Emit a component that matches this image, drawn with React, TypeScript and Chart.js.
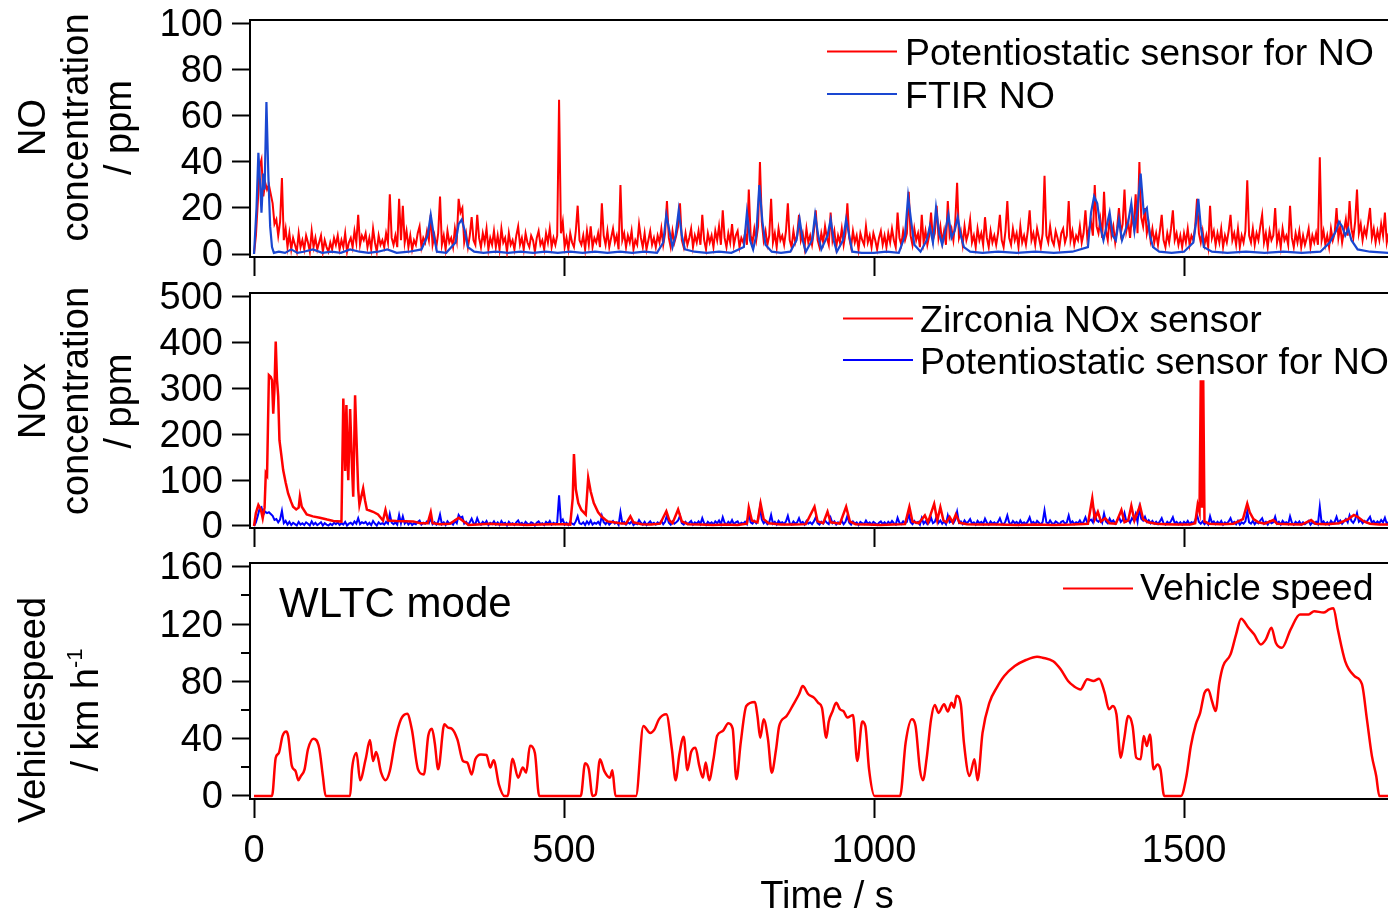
import { useEffect, useRef } from "react";
import { Chart, registerables } from "chart.js";

Chart.register(...registerables);

const FONT_FAMILY = "'Liberation Sans', Arial, Helvetica, sans-serif";
const RED = "#ff0000";
const FTIR_BLUE = "#1a47d1";
const BLUE = "#0000ff";

// ---------------- axes ----------------
const TIME_MIN = -6.5;
const TIME_MAX = 1829;
const TIME_TICKS = [0, 500, 1000, 1500];
const NO_TICKS = [0, 20, 40, 60, 80, 100];
const NOX_TICKS = [0, 100, 200, 300, 400, 500];
const SPEED_TICKS = [0, 40, 80, 120, 160];
const SPEED_MINOR_TICKS = [20, 60, 100, 140];

// ---------------- data ----------------
// Potentiostatic NO sensor, sampled every POT_STEP seconds from t = 0 s (ppm)
const POT_STEP = 3;
const potentiostaticNO = [
  0, 8, 22, 38, 41, 25, 31, 28, 30, 26, 22, 13, 15, 8, 14, 33, 6, 11, 3, 9,
  2, 7, 4, 1, 9, 3, 6, 2, 8, 5, 1, 10, 3, 7, 2, 5, 8, 1, 6, 3,
  1, 5, 2, 7, 4, 8, 2, 6, 3, 9, 1, 5, 7, 3, 10, 5, 17, 4, 8, 6,
  9, 3, 7, 2, 11, 5, 1, 8, 4, 6, 3, 9, 5, 26, 7, 4, 8, 3, 24, 6,
  21, 5, 10, 3, 8, 2, 6, 4, 9, 12, 3, 7, 5, 10, 6, 17, 4, 8, 3, 9,
  25, 4, 8, 2, 10, 5, 7, 3, 11, 6, 24, 18, 20, 5, 9, 3, 8, 16, 6, 4,
  17, 7, 3, 9, 5, 11, 2, 7, 4, 10, 3, 8, 2, 11, 5, 7, 1, 9, 4, 6,
  2, 8, 12, 4, 7, 2, 9, 5, 3, 8, 6, 1, 7, 10, 4, 6, 2, 9, 5, 11,
  3, 7, 4, 8, 67, 9, 14, 3, 7, 2, 9, 5, 3, 10, 21, 6, 4, 8, 2, 10,
  4, 12, 3, 7, 5, 9, 3, 22, 8, 4, 10, 3, 7, 11, 5, 8, 2, 30, 6, 9,
  3, 8, 5, 10, 2, 6, 4, 13, 7, 3, 9, 2, 6, 10, 4, 7, 3, 8, 5, 11,
  4, 9, 23, 7, 3, 10, 5, 8, 12, 22, 6, 3, 9, 4, 7, 11, 3, 8, 5, 10,
  4, 17, 6, 2, 9, 5, 8, 3, 10, 6, 12, 4, 19, 7, 3, 9, 5, 13, 4, 8,
  10, 3, 7, 5, 9, 4, 28, 8, 5, 11, 6, 12, 40, 14, 6, 10, 4, 8, 24, 5,
  9, 3, 11, 6, 8, 4, 10, 22, 6, 3, 10, 5, 8, 17, 6, 9, 3, 11, 5, 8,
  4, 10, 19, 6, 3, 9, 5, 12, 7, 4, 18, 6, 10, 3, 8, 5, 11, 4, 9, 22,
  7, 3, 10, 5, 8, 2, 9, 6, 4, 12, 5, 8, 3, 9, 6, 2, 7, 10, 4, 8,
  3, 9, 5, 11, 6, 3, 18, 7, 4, 10, 6, 9, 27, 8, 4, 11, 6, 9, 3, 17,
  5, 10, 4, 8, 18, 6, 9, 21, 7, 12, 5, 10, 4, 23, 8, 11, 6, 14, 31, 7,
  10, 4, 12, 6, 9, 15, 5, 8, 3, 11, 6, 9, 4, 16, 7, 3, 10, 5, 8, 4,
  9, 17, 6, 3, 10, 23, 7, 4, 11, 6, 9, 3, 12, 5, 8, 4, 10, 19, 6, 9,
  4, 11, 7, 3, 9, 34, 8, 5, 12, 6, 4, 10, 7, 3, 9, 11, 5, 8, 23, 6,
  10, 4, 8, 6, 12, 5, 9, 19, 7, 11, 14, 8, 30, 12, 9, 15, 7, 27, 10, 6,
  16, 8, 12, 5, 11, 20, 9, 13, 28, 10, 14, 7, 17, 12, 26, 9, 40, 16, 12, 20,
  9, 13, 6, 11, 5, 9, 4, 10, 17, 6, 3, 9, 5, 11, 19, 6, 9, 4, 8, 3,
  9, 5, 11, 4, 8, 6, 12, 24, 9, 5, 10, 4, 8, 3, 21, 7, 10, 4, 9, 5,
  11, 3, 8, 5, 10, 17, 6, 9, 4, 11, 3, 8, 5, 10, 32, 8, 5, 11, 4, 9,
  6, 12, 17, 5, 9, 3, 10, 6, 8, 20, 5, 9, 3, 11, 6, 8, 4, 21, 7, 3,
  9, 5, 10, 3, 8, 4, 7, 11, 3, 8, 5, 9, 4, 42, 6, 10, 4, 8, 3, 11,
  6, 9, 20, 7, 12, 5, 10, 15, 8, 23, 11, 7, 14, 28, 9, 13, 6, 11, 8, 14,
  20, 7, 11, 5, 10, 6, 13, 8, 18, 5, 9,
];

// FTIR NO (ppm)
const ftirTime = [
  0, 4, 7, 10, 12, 15, 17, 20, 23, 26, 29, 32, 40, 50, 60, 70, 80, 95, 110, 125,
  140, 155, 170, 185, 200, 215, 230, 250, 270, 280, 285, 290, 295, 310, 325, 330, 335, 340, 345, 355,
  370, 390, 410, 430, 450, 470, 490, 510, 530, 550, 570, 590, 610, 630, 650, 660, 665, 670, 675, 680,
  685, 690, 695, 710, 730, 750, 770, 790, 795, 800, 805, 810, 815, 820, 825, 835, 850, 865, 875, 880,
  885, 890, 900, 905, 910, 915, 925, 930, 935, 940, 950, 955, 960, 965, 980, 1000, 1020, 1040, 1050, 1055,
  1060, 1065, 1075, 1085, 1090, 1095, 1100, 1105, 1110, 1115, 1120, 1125, 1130, 1135, 1140, 1145, 1155, 1175, 1200, 1230,
  1260, 1290, 1320, 1345, 1350, 1355, 1360, 1365, 1370, 1375, 1380, 1385, 1390, 1395, 1400, 1405, 1410, 1415, 1420, 1425,
  1430, 1435, 1440, 1445, 1450, 1460, 1480, 1500, 1515, 1520, 1523, 1527, 1532, 1545, 1570, 1600, 1630, 1660, 1690, 1720,
  1735, 1745, 1750, 1755, 1760, 1765, 1770, 1780, 1800, 1830,
];
const ftirNO = [
  0, 20, 44, 30, 18, 35, 28, 66, 35, 12, 3, 0.5, 1, 0.5, 2, 0.5, 1, 2, 0.5, 1,
  0.5, 2, 1, 0.5, 1, 2, 0.5, 1, 2, 8, 17, 8, 1, 0.5, 5, 13, 15, 10, 3, 1,
  0.5, 1, 0.5, 1, 0.5, 1, 0.5, 1, 0.5, 1, 0.5, 1, 0.5, 1, 0.5, 5, 17, 10, 3, 8,
  19, 8, 2, 1, 0.5, 1, 0.5, 3, 18, 6, 2, 8, 30, 14, 4, 1, 0.5, 1, 6, 15,
  6, 1, 6, 17, 8, 2, 8, 15, 6, 1, 6, 15, 8, 1, 0.5, 0.5, 1, 0.5, 8, 25,
  14, 4, 1, 6, 12, 5, 20, 9, 4, 10, 17, 7, 10, 16, 8, 3, 1, 0.5, 1, 0.5,
  1, 0.5, 1, 3, 18, 25, 22, 12, 6, 12, 18, 8, 6, 15, 6, 10, 14, 22, 10, 20,
  35, 18, 20, 8, 3, 1, 0.5, 1, 5, 15, 24, 12, 3, 1, 0.5, 1, 0.5, 1, 0.5, 1,
  5, 10, 14, 12, 8, 11, 6, 2, 1, 0.5,
];

// Zirconia NOx sensor (ppm)
const zirconiaTime = [
  0, 3, 7, 11, 14, 17, 19, 21, 24, 27, 29, 31, 33, 35, 37, 39, 41, 44, 47, 51,
  55, 60, 63, 68, 72, 74, 77, 85, 95, 106, 118, 128, 141, 144, 146, 147, 149, 151, 152, 155,
  158, 160, 163, 166, 168, 170, 174, 176, 179, 182, 192, 200, 208, 212, 216, 230, 257, 268, 280, 285,
  288, 300, 316, 330, 336, 346, 360, 380, 400, 420, 440, 460, 480, 500, 510, 514, 516, 519, 523, 528,
  535, 539, 543, 548, 555, 561, 570, 580, 590, 600, 607, 612, 625, 640, 655, 665, 670, 675, 684, 690,
  700, 720, 740, 760, 780, 795, 798, 803, 812, 817, 822, 830, 850, 870, 890, 904, 909, 918, 925, 930,
  945, 955, 961, 970, 990, 1010, 1030, 1050, 1057, 1062, 1072, 1082, 1087, 1097, 1102, 1107, 1112, 1117, 1122, 1127,
  1132, 1138, 1150, 1170, 1200, 1230, 1260, 1290, 1320, 1345, 1352, 1356, 1361, 1366, 1373, 1380, 1390, 1399, 1404, 1410,
  1415, 1420, 1429, 1434, 1442, 1455, 1470, 1490, 1510, 1518, 1522, 1525, 1527, 1529, 1531, 1533, 1540, 1560, 1580, 1595,
  1602, 1606, 1612, 1620, 1630, 1644, 1650, 1670, 1690, 1705, 1712, 1730, 1750, 1765, 1774, 1780, 1790, 1800, 1815, 1830,
];
const zirconiaNOx = [
  0, 28, 46, 36, 17, 40, 115, 110, 329, 325, 318, 245, 300, 402, 320, 283, 187, 155, 122, 95,
  71, 52, 42, 36, 40, 64, 42, 25, 21, 18, 14, 11, 9.6, 278, 180, 120, 264, 140, 100, 255,
  130, 64, 285, 160, 80, 46, 70, 82, 56, 36, 31, 25, 12, 35, 12, 11, 10, 6, 6, 30,
  6, 4, 5, 18, 12, 2, 3, 5, 3, 4, 2, 3, 4, 4, 3, 60, 157, 80, 50, 35,
  25, 105, 75, 50, 30, 20, 10, 8, 6, 5, 21, 8, 4, 3, 5, 32, 12, 6, 36, 10,
  4, 3, 2, 3, 2, 5, 40, 12, 8, 49, 15, 6, 3, 3, 4, 42, 10, 6, 31, 8,
  5, 42, 10, 4, 3, 2, 3, 4, 42, 10, 6, 23, 8, 48, 12, 41, 12, 8, 19.6, 8,
  25, 7, 4, 3, 3, 2, 3, 2, 3, 5, 60, 15, 31, 10, 17, 6, 5, 35, 8, 12,
  44, 12, 44, 15, 8, 5, 4, 3, 3, 6, 46, 30, 318, 40, 318, 10, 5, 4, 5, 15,
  49, 30, 15, 8, 5, 13, 5, 4, 3, 13, 5, 4, 6, 15, 24, 20, 10, 5, 3, 3,
];

// Vehicle speed, WLTC mode (km/h)
const speedTime = [
  0, 29, 35, 40, 46, 52, 55, 61, 67, 71.5, 75.7, 81.5, 87, 96, 105, 111, 115.5, 155, 158, 165.4,
  171, 180, 187, 192, 197, 205, 212, 219, 228, 237, 247, 254.5, 264.5, 274, 281, 287, 291.5, 297, 307, 313,
  319, 328, 337, 344, 351, 357, 366, 375, 381, 386.5, 395, 404, 409, 417, 426, 433.5, 439, 445, 453, 460,
  527, 534, 540, 546, 551, 558, 565, 574, 578, 583, 616, 628, 639, 646, 653, 665, 674, 680, 686, 693,
  699, 705, 712, 718, 724, 728.5, 734, 741, 747, 756, 765, 772, 778, 785, 794, 808, 812, 816.5, 822, 829,
  835, 842, 847, 859, 870, 879, 885, 894, 903, 910, 916, 923, 927, 933, 939, 945, 951, 957, 966, 973,
  981, 986, 992, 1001, 1042, 1051, 1061, 1067, 1074, 1079, 1085, 1092, 1098, 1104, 1113, 1119, 1125, 1129, 1133, 1140,
  1145, 1154, 1162, 1167, 1175, 1186, 1198, 1210, 1227, 1245, 1263, 1272, 1289, 1301, 1313, 1322, 1333, 1344, 1354, 1363,
  1372, 1379, 1385, 1391, 1398, 1403, 1410, 1417, 1423, 1430, 1435, 1440, 1445, 1451, 1457, 1462, 1468, 1495, 1504, 1511,
  1519, 1526, 1533, 1539, 1545, 1551, 1557, 1563, 1575, 1584, 1592, 1604, 1613, 1624, 1632, 1641, 1648, 1658, 1672, 1687,
  1701, 1710, 1725, 1734, 1741, 1748, 1760, 1775, 1787, 1795, 1803, 1810, 1815, 1835,
];
const vehicleSpeed = [
  0, 0, 26.7, 30, 42, 45, 42, 21, 17.4, 11, 14, 18.6, 32.6, 40, 33.7, 14, 0, 0, 18.6, 30,
  11, 25.6, 39, 24.4, 30.7, 16.3, 11, 17.4, 39.5, 53.5, 57.4, 46.5, 18.6, 15, 42, 47, 37, 18.6, 50, 47.7,
  47, 39.5, 24.4, 23.3, 15, 25.6, 29, 28.6, 19.8, 25, 8, 0, 0, 26, 12.8, 19.8, 16.3, 35, 30, 0,
  0, 22.8, 18.6, 0, 1, 25.6, 17.4, 12.8, 17.9, 0, 0, 48.8, 44, 46.5, 53.5, 57, 32.6, 11, 29, 41.4,
  18, 30.7, 33.7, 21.4, 12.8, 23.3, 11, 25.6, 42, 45.3, 50.7, 47, 11.6, 37.2, 62.8, 65.6, 55.8, 40.7, 53.5, 39.5,
  16.3, 32.6, 48.8, 55.8, 64, 71, 76.7, 71, 68.6, 65, 61.6, 40.7, 52, 59, 65, 60.5, 59, 54.7, 56.5, 24.4,
  52, 48.8, 18.6, 0, 0, 37.2, 53.5, 48.8, 18.6, 11, 26.7, 53.5, 63.5, 58, 64, 59, 65, 61.6, 70, 64,
  37.2, 14, 25.6, 11, 44, 65, 75.6, 83.7, 90.7, 94.9, 97.2, 96.5, 94, 88.4, 80.2, 76.7, 74.4, 81.4, 80.2, 81.9,
  72, 60.5, 62.8, 57, 26.7, 38.4, 55.8, 48.8, 26.7, 25.6, 41.9, 34.9, 43, 18.6, 22, 18.6, 0, 0, 14, 34.9,
  50, 58, 72, 74.4, 66.3, 59.3, 79, 90.7, 98.8, 112.8, 123.7, 117.4, 112.8, 105.8, 109.3, 117.4, 107, 103.5, 116.3, 126.7,
  126.7, 129, 128, 130.2, 131, 116.3, 94, 83.7, 78, 53.5, 28, 14, 0, 0,
];

// ---------------- helpers ----------------
const pairs = (xs: number[], ys: number[]) => xs.map((x, i) => ({ x, y: ys[i] }));
const stepped = (ys: number[], step: number) => ys.map((y, i) => ({ x: i * step, y }));

const font = (size: number) => `${size}px ${FONT_FAMILY}`;

type TitleLine = { text: string; sup?: string; baseline: number };
type Decor = {
  yTitle: { lines: TitleLine[]; centerY: number };
  legend: { x1: number; x2: number; textX: number; rows: { dataset: number; lineY: number; baseline: number }[] };
  minorTicks?: number[];
  notes?: { text: string; x: number; y: number; size: number; align?: CanvasTextAlign }[];
};

function decorPlugin(d: Decor) {
  return {
    id: "decor",
    afterDraw(chart: any) {
      const { ctx, chartArea: a } = chart;
      ctx.save();
      // top frame line
      ctx.strokeStyle = "#000";
      ctx.lineWidth = 2;
      ctx.beginPath();
      ctx.moveTo(a.left - 1, a.top);
      ctx.lineTo(a.right, a.top);
      ctx.stroke();
      // minor ticks
      if (d.minorTicks) {
        const ys = chart.scales.y;
        d.minorTicks.forEach((v) => {
          const py = Math.round(ys.getPixelForValue(v));
          ctx.beginPath();
          ctx.moveTo(a.left - 9, py);
          ctx.lineTo(a.left, py);
          ctx.stroke();
        });
      }
      // legend
      ctx.font = font(37.5);
      ctx.textAlign = "left";
      ctx.textBaseline = "alphabetic";
      ctx.fillStyle = "#000";
      d.legend.rows.forEach((r) => {
        const ds = chart.data.datasets[r.dataset];
        ctx.strokeStyle = ds.borderColor;
        ctx.lineWidth = 2;
        ctx.beginPath();
        ctx.moveTo(d.legend.x1, r.lineY);
        ctx.lineTo(d.legend.x2, r.lineY);
        ctx.stroke();
        ctx.fillText(ds.label, d.legend.textX, r.baseline);
      });
      // free notes
      (d.notes || []).forEach((n) => {
        ctx.font = font(n.size);
        ctx.textAlign = n.align || "left";
        ctx.fillText(n.text, n.x, n.y);
      });
      // rotated y-axis title
      d.yTitle.lines.forEach((line) => {
        ctx.save();
        ctx.translate(line.baseline, d.yTitle.centerY);
        ctx.rotate(-Math.PI / 2);
        ctx.font = font(38);
        const w = ctx.measureText(line.text).width;
        let supW = 0;
        if (line.sup) {
          ctx.font = font(22);
          supW = ctx.measureText(line.sup).width;
        }
        const start = -(w + supW) / 2;
        ctx.textAlign = "left";
        ctx.font = font(38);
        ctx.fillText(line.text, start, 0);
        if (line.sup) {
          ctx.font = font(22);
          ctx.fillText(line.sup, start + w, -16);
        }
        ctx.restore();
      });
      ctx.restore();
    },
  };
}

type PanelSpec = {
  datasets: any[];
  yMin: number;
  yMax: number;
  yTicks: number[];
  padTop: number;
  xAxisHeight: number;
  showXLabels: boolean;
  decor: Decor;
};

function panelConfig(p: PanelSpec): any {
  return {
    type: "line",
    data: { datasets: p.datasets },
    options: {
      responsive: false,
      animation: false,
      events: [],
      layout: { autoPadding: false, padding: { top: p.padTop, left: 0, right: 0, bottom: 0 } },
      elements: { point: { radius: 0 }, line: { borderWidth: 2, tension: 0 } },
      plugins: { legend: { display: false }, tooltip: { enabled: false }, title: { display: false } },
      scales: {
        x: {
          type: "linear",
          min: TIME_MIN,
          max: TIME_MAX,
          afterBuildTicks: (s: any) => {
            s.ticks = TIME_TICKS.map((v) => ({ value: v }));
          },
          afterFit: (s: any) => {
            s.height = p.xAxisHeight;
            s.paddingLeft = 0;
            s.paddingRight = 0;
          },
          grid: { display: true, drawOnChartArea: false, drawTicks: true, tickLength: 19, tickWidth: 2, tickColor: "#000" },
          border: { display: true, color: "#000", width: 2 },
          ticks: {
            display: p.showXLabels,
            color: "#000",
            font: { family: FONT_FAMILY, size: 38 },
            padding: 11,
            maxRotation: 0,
            autoSkip: false,
            callback: (v: any) => String(v),
          },
        },
        y: {
          type: "linear",
          min: p.yMin,
          max: p.yMax,
          afterBuildTicks: (s: any) => {
            s.ticks = p.yTicks.map((v) => ({ value: v }));
          },
          afterFit: (s: any) => {
            s.width = 250;
            s.paddingTop = 0;
            s.paddingBottom = 0;
          },
          grid: { display: true, drawOnChartArea: false, drawTicks: true, tickLength: 18, tickWidth: 2, tickColor: "#000" },
          border: { display: true, color: "#000", width: 2 },
          ticks: {
            color: "#000",
            font: { family: FONT_FAMILY, size: 38 },
            padding: 9,
            labelOffset: 2,
            autoSkip: false,
            callback: (v: any) => String(v),
          },
        },
      },
    },
    plugins: [decorPlugin(p.decor)],
  };
}

const line = (label: string, data: any[], color: string, order: number, extra: any = {}) => ({
  label,
  data,
  borderColor: color,
  backgroundColor: color,
  borderWidth: 2,
  pointRadius: 0,
  fill: false,
  order,
  ...extra,
});

export default function App() {
  const c1 = useRef<HTMLCanvasElement>(null);
  const c2 = useRef<HTMLCanvasElement>(null);
  const c3 = useRef<HTMLCanvasElement>(null);

  useEffect(() => {
    const potPoints = stepped(potentiostaticNO, POT_STEP);

    const noPanel = panelConfig({
      datasets: [
        line("Potentiostatic sensor for NO", potPoints, RED, 1),
        line("FTIR NO", pairs(ftirTime, ftirNO), FTIR_BLUE, 0, { borderWidth: 2.2 }),
      ],
      yMin: -1.3,
      yMax: 101.7,
      yTicks: NO_TICKS,
      padTop: 20,
      xAxisHeight: 23,
      showXLabels: false,
      decor: {
        yTitle: {
          centerY: 127.5,
          lines: [
            { text: "NO", baseline: 45 },
            { text: "concentration", baseline: 88 },
            { text: "/ ppm", baseline: 131 },
          ],
        },
        legend: {
          x1: 827,
          x2: 897,
          textX: 905,
          rows: [
            { dataset: 0, lineY: 51.5, baseline: 65 },
            { dataset: 1, lineY: 94, baseline: 107.5 },
          ],
        },
      },
    });

    const noxPanel = panelConfig({
      datasets: [
        line("Zirconia NOx sensor", pairs(zirconiaTime, zirconiaNOx), RED, 0, { borderWidth: 2.5 }),
        line("Potentiostatic sensor for NO", potPoints, BLUE, 1),
      ],
      yMin: -4.4,
      yMax: 508,
      yTicks: NOX_TICKS,
      padTop: 13,
      xAxisHeight: 22,
      showXLabels: false,
      decor: {
        yTitle: {
          centerY: 121,
          lines: [
            { text: "NOx", baseline: 45 },
            { text: "concentration", baseline: 88 },
            { text: "/ ppm", baseline: 131 },
          ],
        },
        legend: {
          x1: 843,
          x2: 913,
          textX: 920,
          rows: [
            { dataset: 0, lineY: 38.5, baseline: 52 },
            { dataset: 1, lineY: 80, baseline: 93.5 },
          ],
        },
      },
    });

    const speedPanel = panelConfig({
      datasets: [
        line("Vehicle speed", pairs(speedTime, vehicleSpeed), RED, 0, {
          cubicInterpolationMode: "monotone",
          borderWidth: 2.5,
        }),
      ],
      yMin: -2.1,
      yMax: 162.6,
      yTicks: SPEED_TICKS,
      padTop: 13,
      xAxisHeight: 114,
      showXLabels: true,
      decor: {
        yTitle: {
          centerY: 160,
          lines: [
            { text: "Vehiclespeed", baseline: 45 },
            { text: "/ km h", sup: "-1", baseline: 98 },
          ],
        },
        legend: {
          x1: 1063,
          x2: 1133,
          textX: 1140,
          rows: [{ dataset: 0, lineY: 38.5, baseline: 49.5 }],
        },
        minorTicks: SPEED_MINOR_TICKS,
        notes: [
          { text: "WLTC mode", x: 279, y: 67, size: 42 },
          { text: "Time / s", x: 827, y: 358, size: 38, align: "center" },
        ],
      },
    });

    const charts = [
      new Chart(c1.current as HTMLCanvasElement, noPanel),
      new Chart(c2.current as HTMLCanvasElement, noxPanel),
      new Chart(c3.current as HTMLCanvasElement, speedPanel),
    ];
    return () => charts.forEach((c) => c.destroy());
  }, []);

  const box = (top: number, height: number): React.CSSProperties => ({
    position: "absolute",
    left: 0,
    top,
    width: 1388,
    height,
  });

  return (
    <div style={{ position: "absolute", left: 0, top: 0, width: 1388, height: 913, background: "#fff", overflow: "hidden" }}>
      <div style={box(0, 280)}>
        <canvas ref={c1} width={1388} height={280} style={{ width: 1388, height: 280, display: "block" }} />
      </div>
      <div style={box(280, 270)}>
        <canvas ref={c2} width={1388} height={270} style={{ width: 1388, height: 270, display: "block" }} />
      </div>
      <div style={box(550, 363)}>
        <canvas ref={c3} width={1388} height={363} style={{ width: 1388, height: 363, display: "block" }} />
      </div>
    </div>
  );
}
